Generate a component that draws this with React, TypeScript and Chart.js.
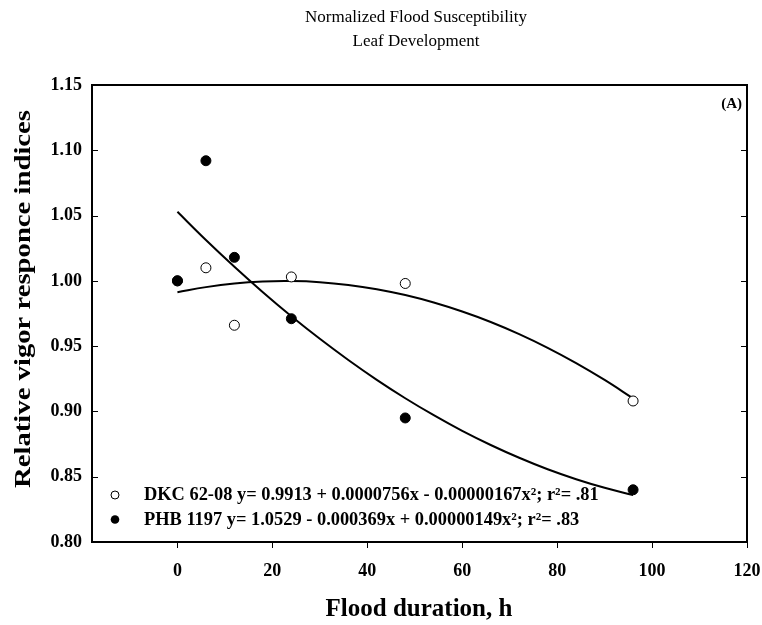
import React, { useEffect, useRef } from "react";
import { Chart, registerables } from "chart.js";

Chart.register(...registerables);

const titleLines = ["Normalized Flood Susceptibility", "Leaf Development"];
const xAxisTitle = "Flood duration, h";
const yAxisTitle = "Relative vigor responce indices";
const panelLabel = "(A)";

const xTicks = [0, 20, 40, 60, 80, 100, 120];
const yTicks = [0.8, 0.85, 0.9, 0.95, 1.0, 1.05, 1.1, 1.15];

const dkcHours = [0, 6, 12, 24, 48, 96];
const dkcValues = [1.0, 1.01, 0.966, 1.003, 0.998, 0.908];
const phbHours = [0, 6, 12, 24, 48, 96];
const phbValues = [1.0, 1.092, 1.018, 0.971, 0.895, 0.84];

const fitHours = [0, 6, 12, 18, 24, 30, 36, 42, 48, 54, 60, 66, 72, 78, 84, 90, 96];
const dkcFit = [
  0.9913, 0.9952, 0.998, 0.9995, 0.9998, 0.999, 0.9969, 0.9936, 0.9891, 0.9834, 0.9765, 0.9685, 0.9592,
  0.9487, 0.937, 0.9241, 0.91,
];
const phbFit = [
  1.0529, 1.0313, 1.0108, 0.9913, 0.9729, 0.9556, 0.9394, 0.9242, 0.9101, 0.8971, 0.8851, 0.8743, 0.8645,
  0.8557, 0.8481, 0.8415, 0.836,
];

const legendLabels = [
  "DKC 62-08 y= 0.9913 + 0.0000756x - 0.00000167x²; r²= .81",
  "PHB 1197 y= 1.0529 - 0.000369x + 0.00000149x²; r²= .83",
];

const SERIF = '"Liberation Serif", "Times New Roman", serif';

const pts = (xs: number[], ys: number[]) => xs.map((x, i) => ({ x, y: ys[i] }));

const decorPlugin = {
  id: "decor",
  afterDraw(chart: any) {
    const { ctx, chartArea, scales } = chart;
    const { left, right, top, bottom } = chartArea;
    const y = scales.y;
    ctx.save();
    ctx.strokeStyle = "#000";
    ctx.lineWidth = 2;
    ctx.strokeRect(left, top, right - left, bottom - top);
    ctx.lineWidth = 1;
    yTicks.forEach((v) => {
      const py = Math.round(y.getPixelForValue(v)) + 0.5;
      ctx.beginPath();
      ctx.moveTo(left, py);
      ctx.lineTo(left + 6, py);
      ctx.moveTo(right - 6, py);
      ctx.lineTo(right, py);
      ctx.stroke();
    });

    ctx.fillStyle = "#000";
    ctx.textBaseline = "middle";
    ctx.textAlign = "center";
    ctx.font = `17px ${SERIF}`;
    ctx.fillText(titleLines[0], 416, 18);
    ctx.fillText(titleLines[1], 416, 42);

    ctx.font = `bold 25px ${SERIF}`;
    ctx.fillText(xAxisTitle, 419, 610);
    ctx.save();
    ctx.translate(24, 299);
    ctx.rotate(-Math.PI / 2);
    ctx.font = `bold 23px ${SERIF}`;
    const w = ctx.measureText(yAxisTitle).width;
    ctx.scale(378 / w, 1);
    ctx.fillText(yAxisTitle, 0, 0);
    ctx.restore();

    ctx.font = `bold 15px ${SERIF}`;
    ctx.textAlign = "right";
    ctx.fillText(panelLabel, 742, 104);

    // legend
    ctx.textAlign = "left";
    ctx.font = `bold 18.4px ${SERIF}`;
    ctx.fillText(legendLabels[0], 144, 495);
    ctx.fillText(legendLabels[1], 144, 520);
    ctx.beginPath();
    ctx.arc(115, 495, 4, 0, Math.PI * 2);
    ctx.fillStyle = "#fff";
    ctx.fill();
    ctx.lineWidth = 1;
    ctx.stroke();
    ctx.beginPath();
    ctx.arc(115, 519.5, 4.3, 0, Math.PI * 2);
    ctx.fillStyle = "#000";
    ctx.fill();
    ctx.restore();
  },
};

export default function App() {
  const ref = useRef<HTMLCanvasElement | null>(null);
  useEffect(() => {
    document.body.style.margin = "0";
    const canvas = ref.current;
    if (!canvas) return;
    const chart = new Chart(canvas, {
      type: "scatter",
      data: {
        datasets: [
          {
            label: "PHB 1197",
            data: pts(phbHours, phbValues),
            pointRadius: 5,
            pointBackgroundColor: "#000",
            pointBorderColor: "#000",
            pointBorderWidth: 1,
            showLine: false,
          },
          {
            label: "DKC 62-08",
            data: pts(dkcHours, dkcValues),
            pointRadius: 5,
            pointBackgroundColor: "#fff",
            pointBorderColor: "#000",
            pointBorderWidth: 1,
            showLine: false,
          },
          {
            label: "PHB fit",
            data: pts(fitHours, phbFit),
            showLine: true,
            pointRadius: 0,
            borderColor: "#000",
            borderWidth: 2,
            tension: 0.4,
          },
          {
            label: "DKC fit",
            data: pts(fitHours, dkcFit),
            showLine: true,
            pointRadius: 0,
            borderColor: "#000",
            borderWidth: 2,
            tension: 0.4,
          },
        ],
      },
      options: {
        animation: false,
        responsive: true,
        maintainAspectRatio: false,
        layout: { padding: { top: 85, right: 15, bottom: 0, left: 0 } },
        plugins: {
          legend: { display: false },
          title: { display: false },
          tooltip: { enabled: false },
        },
        scales: {
          x: {
            type: "linear",
            min: -18,
            max: 120,
            afterFit: (s: any) => {
              s.height = 83;
              s.paddingLeft = 0;
              s.paddingRight = 0;
            },
            afterBuildTicks: (s: any) => {
              s.ticks = xTicks.map((v) => ({ value: v }));
            },
            border: { display: false },
            grid: {
              display: true,
              drawOnChartArea: false,
              drawTicks: true,
              tickLength: 6,
              color: "#000",
              lineWidth: 1,
            },
            ticks: {
              color: "#000",
              padding: 13,
              maxRotation: 0,
              font: { family: SERIF, size: 18, weight: "bold" },
              callback: (v: any) => String(v),
            },
          },
          y: {
            type: "linear",
            min: 0.8,
            max: 1.15,
            afterFit: (s: any) => {
              s.width = 92;
              s.paddingTop = 0;
              s.paddingBottom = 0;
            },
            afterBuildTicks: (s: any) => {
              s.ticks = yTicks.map((v) => ({ value: v }));
            },
            border: { display: false },
            grid: { display: false, drawTicks: false },
            ticks: {
              color: "#000",
              padding: 10,
              font: { family: SERIF, size: 18, weight: "bold" },
              callback: (v: any) => Number(v).toFixed(2),
            },
          },
        },
      },
      plugins: [decorPlugin],
    } as any);
    return () => chart.destroy();
  }, []);
  return (
    <div style={{ width: 762, height: 625, position: "relative" }}>
      <canvas ref={ref} />
    </div>
  );
}
